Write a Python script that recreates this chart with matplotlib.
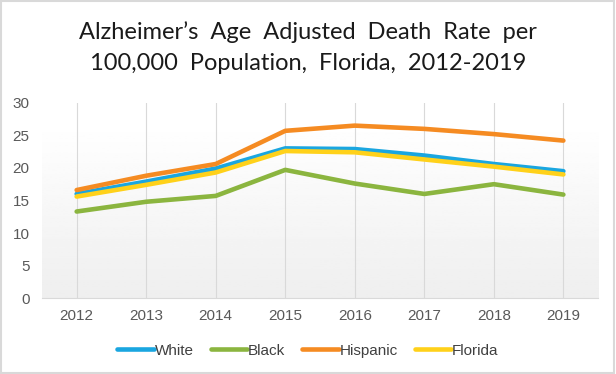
import numpy as np
import matplotlib.pyplot as plt
from matplotlib.patches import Rectangle

years = ['2012', '2013', '2014', '2015', '2016', '2017', '2018', '2019']
white = [16.0, 17.9, 19.9, 23.0, 22.9, 21.9, 20.6, 19.5]
black = [13.3, 14.8, 15.7, 19.7, 17.6, 16.0, 17.5, 15.9]
hispanic = [16.6, 18.8, 20.6, 25.7, 26.5, 26.0, 25.2, 24.2]
florida = [15.6, 17.4, 19.3, 22.6, 22.4, 21.3, 20.2, 19.0]

series = [('White', white, '#1aa6e0'),
          ('Black', black, '#8bb53f'),
          ('Hispanic', hispanic, '#f58b22'),
          ('Florida', florida, '#ffd11a')]

plt.rcParams['font.family'] = ['Liberation Sans', 'DejaVu Sans']

fig = plt.figure(figsize=(6.16, 3.74), dpi=100)
ax = fig.add_axes([0.068, 0.203, 0.903, 0.522])

x = np.arange(len(years))

# soft grey gradient behind the lines
grad = np.linspace(0.935, 1.0, 100).reshape(-1, 1)
ax.imshow(grad, extent=(-0.5, len(years) - 0.5, 0, 27), aspect='auto',
          cmap='gray', vmin=0, vmax=1, origin='lower', zorder=0)

for xi in x:
    ax.axvline(xi, color='#d9d9d9', lw=0.8, zorder=1)

for name, vals, col in series:
    ax.plot(x, vals, color=col, lw=3.3, label=name, zorder=3,
            solid_capstyle='round')

ax.set_xlim(-0.5, len(years) - 0.5)
ax.set_ylim(0, 30)
ax.set_yticks(range(0, 31, 5))
ax.set_xticks(x)
ax.set_xticklabels(years)
ax.tick_params(length=0, labelsize=11, colors='#595959', pad=8)
ax.tick_params(axis='y', pad=9)
for s in ['top', 'right', 'left']:
    ax.spines[s].set_visible(False)
ax.spines['bottom'].set_color('#d9d9d9')

fig.text(0.5, 0.872, 'Alzheimer\u2019s  Age  Adjusted  Death  Rate  per\n100,000  Population,  Florida,  2012-2019',
         ha='center', va='center', fontsize=17, color='#1a1a1a',
         family=['Lato', 'DejaVu Sans'], linespacing=1.6)

fig.legend(loc='center', bbox_to_anchor=(0.5, 0.062), ncol=4, frameon=False,
           fontsize=11, handlelength=2.4, handletextpad=0.05, columnspacing=1.1,
           labelcolor='#404040')

fig.add_artist(Rectangle((0.002, 0.003), 0.995, 0.994, transform=fig.transFigure,
                         fill=False, edgecolor='#d9d9d9', lw=1.5))

fig.savefig('out.png', dpi=100)
